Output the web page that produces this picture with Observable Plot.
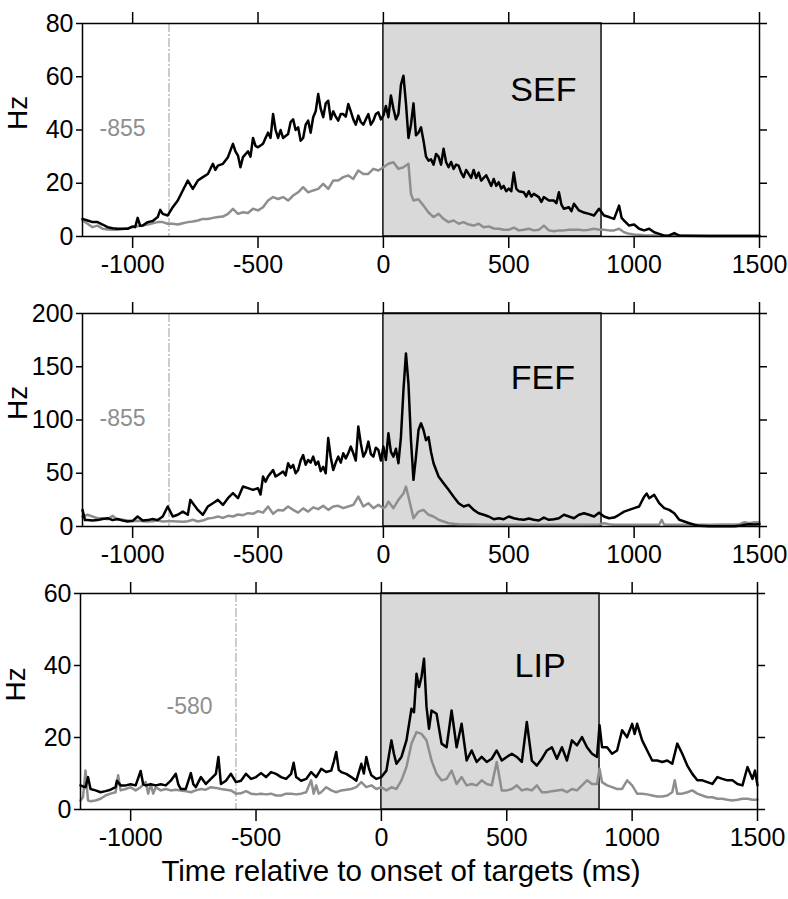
<!DOCTYPE html>
<html><head><meta charset="utf-8">
<script src="https://cdn.jsdelivr.net/npm/d3@7"></script>
<script src="https://cdn.jsdelivr.net/npm/@observablehq/plot@0.6"></script>
<style>
body{margin:0;background:#fff;font-family:"Liberation Sans",Arial,sans-serif;}
#chart svg{display:block}
</style></head><body><div id="chart"></div>
<script>
// ---- data ----
const xTicks = [-1000, -500, 0, 500, 1000, 1500];
const shade = [{start: 0, end: 870}];
const areaNames = ["SEF", "FEF", "LIP"];
const markerTimes = [-855, -855, -580];
const yMaxes = [80, 200, 60];
const yTicksSEF = [0, 20, 40, 60, 80];
const yTicksFEF = [0, 50, 100, 150, 200];
const yTicksLIP = [0, 20, 40, 60];
const xTitle = "Time relative to onset of targets (ms)";
const yTitle = "Hz";

const sefBlack = [[-1200,6.6],[-1180,6],[-1160,5.4],[-1140,5.4],[-1120,4.5],[-1100,3.5],[-1080,3.1],[-1060,2.9],[-1040,2.9],[-1020,2.9],[-1000,3.8],[-990,3.5],[-980,7],[-970,4],[-960,4.1],[-940,5.4],[-920,5.8],[-900,7.3],[-890,10],[-880,8.5],[-860,7.9],[-840,11],[-820,13.5],[-800,17.3],[-780,21],[-760,17.9],[-740,21],[-720,22.3],[-700,23.5],[-680,27.3],[-670,25],[-660,26.6],[-640,27.3],[-620,29.8],[-600,34.8],[-590,32],[-580,30.4],[-570,26],[-560,29.8],[-540,32],[-530,30],[-520,37],[-510,34],[-500,33.5],[-480,34.8],[-470,37],[-460,39],[-450,37],[-440,46],[-430,40],[-420,37],[-410,40],[-400,37],[-380,38.5],[-370,43],[-360,44],[-350,40],[-340,41],[-330,36],[-320,37],[-310,42],[-300,43.5],[-290,39],[-280,44.8],[-270,47],[-260,53.5],[-250,48],[-240,44.8],[-230,50],[-220,51],[-210,44],[-200,47],[-190,45],[-180,43.5],[-170,46],[-160,46],[-150,45],[-140,49.8],[-130,47],[-120,44],[-110,42],[-100,45.4],[-90,43],[-80,42],[-70,44],[-60,46],[-50,42],[-40,43.5],[-30,46],[-20,46.6],[-10,44],[0,45.4],[10,49],[20,44.8],[30,53],[40,48],[50,44],[60,46],[70,57],[80,60.4],[90,50],[100,37],[110,42],[120,50],[130,38],[140,39],[150,41],[160,36],[170,30],[180,28.5],[190,29],[200,27],[210,31],[220,30],[230,27],[240,33],[250,28],[260,26],[270,28],[280,25.4],[290,27],[300,26.6],[310,24],[320,22.3],[330,25],[340,23.5],[350,22],[360,25],[370,22],[380,24],[390,21],[400,22],[410,23],[420,21],[430,19],[440,21.6],[450,19],[460,20.4],[470,18],[480,19],[490,17],[500,18],[510,17],[520,24],[530,18],[540,17],[560,16.6],[570,15],[580,17],[590,15],[600,16],[620,14.8],[630,13],[640,14.8],[660,13.5],[680,13.5],[690,12.5],[700,16.6],[710,12],[720,10.4],[740,11],[750,9.5],[760,12.3],[780,9.8],[800,9],[820,8.5],[840,7.9],[860,10.4],[880,7.9],[900,7.3],[920,6.6],[940,11.6],[950,7],[960,6],[980,4.1],[1000,4.5],[1020,2.9],[1040,2.3],[1060,2.9],[1080,1.6],[1100,1],[1120,0.3],[1140,0.4],[1160,1.3],[1180,0.3],[1200,0.3],[1300,0.2],[1400,0.2],[1500,0.2]];
const sefGray = [[-1200,6],[-1180,4.8],[-1160,3.5],[-1140,4.1],[-1120,2.9],[-1100,2.6],[-1080,2.5],[-1060,2.5],[-1040,2.8],[-1020,3.1],[-1000,3.5],[-980,3.8],[-960,4.1],[-940,4.5],[-920,5],[-900,5.4],[-880,5.4],[-860,4.8],[-840,4.8],[-820,4.5],[-800,5],[-780,5.4],[-760,5.6],[-740,6],[-720,6.6],[-700,6.6],[-680,7],[-660,7.3],[-640,7.5],[-620,8.5],[-600,10.4],[-580,8.5],[-560,9.1],[-540,8.8],[-520,10.4],[-500,9.8],[-480,11],[-460,13.5],[-440,14.8],[-420,14.1],[-400,14.8],[-380,13.5],[-360,15.4],[-340,16.6],[-320,18.5],[-300,16.6],[-280,17.3],[-260,17.9],[-240,19.8],[-220,17.9],[-200,21],[-180,21],[-160,22.3],[-140,22.9],[-120,21.6],[-100,24.8],[-80,23.5],[-60,23.5],[-40,25.4],[-20,24.8],[0,26],[20,27.3],[40,27.9],[60,25.4],[80,26],[100,27.3],[110,16],[120,13.5],[140,14],[160,11.6],[180,9],[200,7.3],[220,8.5],[240,6.6],[260,5.4],[280,6],[300,4.8],[320,5.4],[340,4.5],[360,4.1],[380,4.8],[400,3.5],[420,3.8],[440,3],[460,2.9],[480,2.5],[500,2.5],[520,3.3],[540,2.3],[560,2.5],[580,2.9],[600,2.3],[620,2.5],[640,4.1],[660,2.3],[680,2],[700,2.3],[720,2.3],[740,2.5],[760,2.5],[780,2.5],[800,2.3],[820,2.5],[840,2.9],[860,2.5],[880,2.5],[900,2.3],[920,2.3],[940,2.9],[960,1.6],[980,1],[1000,0.75],[1040,0.5],[1100,0.4],[1200,0.3],[1300,0.3],[1400,0.3],[1500,0.3]];

const fefBlack = [[-1200,15.6],[-1190,6],[-1180,6],[-1160,5.6],[-1140,6],[-1120,7],[-1100,7.8],[-1080,6],[-1060,7],[-1040,5.6],[-1020,4.7],[-1000,5.3],[-980,9.4],[-960,5.6],[-940,6],[-920,7],[-900,6],[-880,9.4],[-860,18.8],[-840,9.4],[-820,11],[-800,14],[-780,11],[-770,25],[-760,21.9],[-740,15.6],[-720,11],[-700,18.8],[-680,21.9],[-660,25],[-640,20.3],[-620,26.6],[-600,31.3],[-580,26.6],[-560,37.5],[-540,36],[-520,34.4],[-500,36],[-490,30],[-480,46.9],[-470,42],[-460,46.9],[-450,50],[-440,53],[-430,47],[-420,48.4],[-400,51.6],[-390,48],[-380,59.4],[-370,55],[-360,57.8],[-350,50],[-340,53],[-330,62],[-320,67],[-310,58],[-300,62.5],[-290,60],[-280,65.6],[-270,58],[-260,61],[-250,52],[-240,56],[-230,50],[-220,83],[-210,65],[-200,53],[-190,60],[-180,65.6],[-170,60],[-160,68.8],[-150,64],[-140,68.8],[-130,75],[-120,68.8],[-110,62],[-100,93.8],[-90,78],[-80,65.6],[-70,70],[-60,79.7],[-50,68],[-40,65.6],[-30,74],[-20,71.9],[-10,62],[0,75],[10,62.5],[20,87.5],[30,70],[40,65.6],[50,73],[60,59.4],[70,84],[80,128],[90,162.5],[100,134],[110,81],[120,43.8],[130,65.6],[140,90.6],[150,96.9],[160,90.6],[170,81],[180,84],[190,70],[200,59.4],[220,46.9],[240,40.6],[260,34.4],[280,28],[300,21.9],[320,18.8],[340,20.3],[360,15.6],[380,12.5],[400,11],[420,9.4],[440,6.9],[460,7.8],[480,6.9],[500,9.4],[520,7.8],[540,6.9],[560,6.3],[580,7.5],[600,6.3],[620,5.6],[640,8.4],[660,6.3],[680,6.9],[700,7.8],[720,11],[740,9.4],[760,7.8],[780,11],[800,12.5],[820,11],[840,9.4],[860,13],[880,9.4],[900,7.8],[920,8.4],[940,11],[960,14],[980,15.6],[1000,17.2],[1020,18.8],[1040,28],[1050,31],[1060,26.6],[1080,29.7],[1100,21.9],[1120,17.2],[1140,15.6],[1160,12.5],[1180,6.3],[1200,4.7],[1220,3.1],[1240,1.6],[1260,0.6],[1300,0.3],[1400,0.3],[1420,0.6],[1440,1.6],[1460,2.2],[1480,1.9],[1500,2.2]];
const fefGray = [[-1200,9.4],[-1180,11],[-1160,9.4],[-1140,7.8],[-1120,7.8],[-1100,6.9],[-1080,10],[-1060,6.3],[-1040,6.3],[-1020,5.6],[-1000,5],[-980,5.3],[-960,5],[-940,4.7],[-920,5],[-900,5.6],[-880,4.7],[-860,5],[-840,5],[-820,4.7],[-800,4.4],[-780,5],[-760,6.3],[-740,4.7],[-720,5.6],[-700,7.5],[-680,8.1],[-660,9.4],[-640,8.1],[-620,10],[-600,9.4],[-580,11.3],[-560,10.6],[-540,12.5],[-520,11.9],[-500,14.4],[-480,13],[-460,18.8],[-440,11.9],[-420,15.6],[-400,15],[-380,18.8],[-360,15.6],[-340,13],[-320,17],[-300,14],[-280,18],[-260,16.3],[-240,19.4],[-220,15.6],[-200,18.8],[-180,19.4],[-160,17.2],[-140,18.8],[-120,20.3],[-100,28],[-80,18.8],[-60,21.9],[-40,17.2],[-20,20.3],[0,17.2],[10,18.8],[20,23.4],[40,17.2],[60,25],[80,31],[90,37.5],[100,28],[120,7.8],[140,14],[160,15.6],[180,11],[200,9.4],[220,6.3],[240,4.7],[260,3.1],[280,2.5],[300,2.2],[400,1.6],[500,1.6],[600,1.6],[700,1.6],[800,1.6],[860,1.9],[880,3.1],[900,2.2],[920,1.6],[1000,1.6],[1100,1.6],[1110,6.3],[1120,1.6],[1200,1.6],[1300,1.6],[1420,2.2],[1440,4],[1460,3.1],[1480,4],[1500,3.8]];

const lipBlack = [[-1200,6.7],[-1190,6.4],[-1180,6.2],[-1170,9],[-1160,5.7],[-1140,5.3],[-1120,4.8],[-1100,5.1],[-1080,5.5],[-1060,6.2],[-1055,8],[-1040,6.7],[-1020,6.7],[-1000,7],[-980,6.7],[-960,10.7],[-950,7],[-940,6.7],[-920,7],[-900,6.7],[-880,7],[-860,6.7],[-840,8],[-820,9.9],[-810,7],[-800,5.7],[-780,5.7],[-760,10.1],[-750,7],[-740,6.2],[-720,9],[-700,7.1],[-680,8.5],[-660,9.9],[-650,14.6],[-640,7.1],[-620,8],[-600,9.9],[-580,7.6],[-560,8],[-540,9.9],[-520,8.5],[-500,9],[-480,10.1],[-460,9],[-440,10.4],[-420,9.9],[-400,9],[-380,8.5],[-360,9.9],[-350,13],[-340,9],[-320,8],[-300,8.5],[-280,10.4],[-260,9],[-240,11.3],[-220,10.4],[-200,10.8],[-190,13.2],[-180,16],[-170,11],[-160,10.4],[-140,9.9],[-120,9],[-100,8],[-80,12.7],[-70,10],[-60,14.6],[-50,11.5],[-40,9.5],[-20,8.5],[0,9],[20,10.8],[40,19.2],[50,15.5],[60,12.7],[80,14.6],[100,19.2],[120,28],[130,27],[140,37.7],[150,34],[160,36.8],[170,41.9],[180,28.5],[190,22.4],[200,27.5],[220,26.6],[240,18.3],[260,17.3],[280,27.5],[300,17.3],[320,23.8],[340,13.6],[360,16.4],[380,13.2],[400,14.6],[420,13.2],[440,14.1],[460,16.4],[480,13.6],[500,14.6],[520,15.5],[540,14.6],[560,13.2],[580,24.3],[600,13.6],[620,12.2],[640,14.1],[660,16.4],[680,17.3],[700,14.1],[720,17.3],[740,13.6],[760,19.2],[780,17.8],[800,20.1],[820,17.3],[840,15.5],[860,14.6],[870,23.4],[880,17.3],[900,17.3],[920,15.5],[940,16.4],[960,22],[980,20.1],[1000,23.8],[1010,21],[1020,23.8],[1040,19.2],[1060,16.4],[1080,13.6],[1100,13.6],[1120,13.2],[1140,13.6],[1160,12.7],[1180,18.3],[1200,15.5],[1220,12.2],[1240,9.9],[1260,8.1],[1280,8.1],[1300,7.6],[1320,7.1],[1340,9],[1360,8.5],[1380,8.1],[1400,8.1],[1420,7.1],[1440,6.7],[1460,11.8],[1480,8.5],[1490,10.8],[1500,6.7]];
const lipGray = [[-1200,2.5],[-1190,3.4],[-1180,10.8],[-1170,2.5],[-1160,2.3],[-1140,2.5],[-1120,3],[-1100,3.9],[-1080,4.4],[-1060,4.8],[-1050,9.5],[-1040,5.3],[-1020,5.7],[-1000,6.2],[-980,5.3],[-960,6.2],[-940,7.6],[-930,4.4],[-920,7.1],[-910,4.4],[-900,6.2],[-880,5.3],[-860,5.7],[-840,5.3],[-820,5.5],[-800,5.3],[-780,5.1],[-760,4.8],[-740,5.3],[-720,5.7],[-700,5.5],[-680,6.2],[-660,6],[-640,5.7],[-620,5.5],[-600,5.3],[-580,4.4],[-560,4.5],[-540,5.1],[-520,4.4],[-500,4.2],[-480,4.4],[-460,4.2],[-440,4.4],[-420,3.9],[-400,3.9],[-380,4.4],[-360,4.4],[-340,4.2],[-320,4.4],[-300,4.8],[-280,8.1],[-270,4.4],[-260,6.7],[-250,4.4],[-240,4.8],[-220,6.2],[-200,5.3],[-180,4.8],[-160,5.3],[-140,5.5],[-120,5.7],[-100,6.2],[-80,7.6],[-60,6.2],[-40,6.7],[-20,5.7],[0,6.2],[20,5.3],[40,6.2],[60,5.7],[80,8.1],[100,11.8],[120,18.3],[140,21.5],[160,21],[170,20.1],[180,19.2],[200,13.6],[220,9.9],[240,8.1],[260,8.5],[280,10.8],[300,7.1],[320,9],[340,6.7],[360,7.1],[380,6.7],[400,8.1],[420,7.1],[440,6.7],[460,13.2],[480,5.3],[500,5.3],[520,5.7],[540,6.7],[560,5.3],[580,5.7],[600,5.3],[620,6.7],[640,4.8],[660,4.8],[680,5.1],[700,5.3],[720,5.5],[740,4.8],[760,5.7],[780,5.3],[800,6.7],[820,8.1],[840,7.1],[860,7.1],[870,11.3],[880,7.6],[900,6.7],[920,6.2],[940,5.7],[960,5.7],[980,8.1],[1000,6.7],[1020,4.4],[1040,4.4],[1060,4.2],[1080,3.9],[1100,3.6],[1120,3.6],[1140,3.9],[1160,4.8],[1170,8.1],[1180,4.4],[1200,4.4],[1220,4.8],[1240,5.3],[1260,4.4],[1280,3.9],[1300,3.4],[1320,3.4],[1340,3],[1360,3],[1380,2.7],[1400,2.5],[1420,2.7],[1440,3],[1460,3],[1480,2.7],[1500,2.7]];

// marker-label anchor positions in data units (time, Hz)
const markerLabelPos = [[-1040, 40.5], [-1040, 101], [-765, 28.5]];
const nameLabelPos = [[638, 55], [636, 139], [633, 39.8]];

// ---- drawing ----
const blackSeries = [sefBlack, fefBlack, lipBlack];
const graySeries = [sefGray, fefGray, lipGray];
const yTickSets = [yTicksSEF, yTicksFEF, yTicksLIP];
const layouts = [
  {height: 290, marginTop: 23, marginBottom: 54, marginLeft: 82, marginRight: 29},
  {height: 280, marginTop: 23, marginBottom: 44, marginLeft: 82, marginRight: 29},
  {height: 329, marginTop: 23, marginBottom: 90, marginLeft: 80, marginRight: 31}
];
const FONT = "'Liberation Sans', Arial, Helvetica, sans-serif";
const GRAY = "#8e8e8e";
const fmt = d => String(d);

const root = document.getElementById("chart");
for (let i = 0; i < 3; i++) {
  const L = layouts[i];
  const yMax = yMaxes[i];
  const marks = [
    Plot.rect(shade, {x1: "start", x2: "end", y1: 0, y2: yMax, fill: "#d9d9d9", stroke: "#111", strokeWidth: 1.5}),
    Plot.ruleX([markerTimes[i]], {stroke: "#9a9a9a", strokeWidth: 1, strokeDasharray: "9,2,2,2"}),
    Plot.text([markerLabelPos[i]], {x: d => d[0], y: d => d[1], text: () => String(markerTimes[i]), fill: GRAY, fontSize: 23}),
    Plot.text([nameLabelPos[i]], {x: d => d[0], y: d => d[1], text: () => areaNames[i], fill: "black", fontSize: 34}),
    Plot.line(graySeries[i], {x: d => d[0], y: d => d[1], stroke: GRAY, strokeWidth: 2.5}),
    Plot.line(blackSeries[i], {x: d => d[0], y: d => d[1], stroke: "black", strokeWidth: 2.5}),
    Plot.frame({stroke: "black", strokeWidth: 1.5}),
    Plot.axisY({anchor: "left", ticks: yTickSets[i], tickFormat: fmt, tickSize: 6, tickPadding: 3, fontSize: 25, strokeWidth: 1.5, label: null}),
    Plot.axisY({anchor: "right", ticks: yTickSets[i], tickFormat: () => "", tickSize: 7, strokeWidth: 1.5, label: null}),
    Plot.axisX({anchor: "top", ticks: xTicks, tickFormat: () => "", tickSize: 12, strokeWidth: 1.5, label: null}),
    Plot.axisX({anchor: "bottom", ticks: xTicks, tickFormat: fmt, tickSize: 12, tickPadding: 7, fontSize: 25, strokeWidth: 1.5, label: null}),
    Plot.text([yTitle], {frameAnchor: "left", dx: -64, rotate: -90, fontSize: 28, fill: "black"})
  ];
  if (i === 2) {
    marks.push(Plot.text([xTitle], {frameAnchor: "bottom", dx: -18, dy: 71, fontSize: 29.5, fill: "black"}));
  }
  const svg = Plot.plot({
    width: 788,
    height: L.height,
    marginTop: L.marginTop,
    marginBottom: L.marginBottom,
    marginLeft: L.marginLeft,
    marginRight: L.marginRight,
    style: {fontFamily: FONT, background: "white", overflow: "visible", color: "black"},
    x: {domain: [-1200, 1500], label: null},
    y: {domain: [0, yMax], label: null},
    marks
  });
  root.appendChild(svg);
}
</script></body></html>
